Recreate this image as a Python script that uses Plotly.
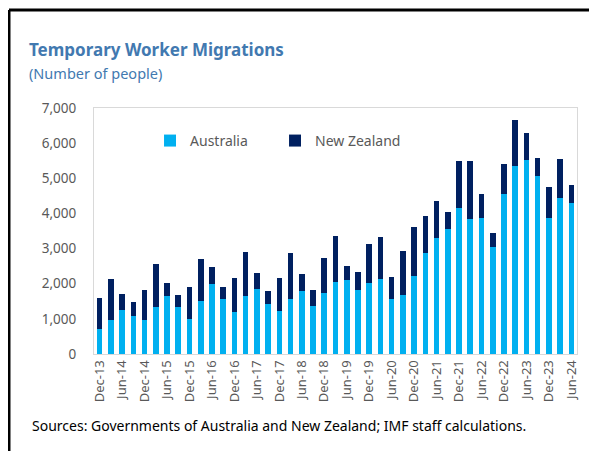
import plotly.graph_objects as go

quarters = [
    "Dec-13", "Mar-14", "Jun-14", "Sep-14", "Dec-14", "Mar-15", "Jun-15", "Sep-15",
    "Dec-15", "Mar-16", "Jun-16", "Sep-16", "Dec-16", "Mar-17", "Jun-17", "Sep-17",
    "Dec-17", "Mar-18", "Jun-18", "Sep-18", "Dec-18", "Mar-19", "Jun-19", "Sep-19",
    "Dec-19", "Mar-20", "Jun-20", "Sep-20", "Dec-20", "Mar-21", "Jun-21", "Sep-21",
    "Dec-21", "Mar-22", "Jun-22", "Sep-22", "Dec-22", "Mar-23", "Jun-23", "Sep-23",
    "Dec-23", "Mar-24", "Jun-24",
]

australia = [
    720, 980, 1260, 1070, 980, 1330, 1660, 1340,
    1010, 1520, 2000, 1570, 1200, 1660, 1850, 1420,
    1230, 1570, 1800, 1370, 1730, 2060, 2100, 1830,
    2010, 2130, 1570, 1670, 2230, 2880, 3300, 3550,
    4160, 3830, 3870, 3050, 4560, 5360, 5530, 5060,
    3860, 4430, 4310,
]

total = [
    1600, 2140, 1720, 1480, 1810, 2560, 2020, 1670,
    1900, 2700, 2470, 1920, 2150, 2910, 2310, 1790,
    2150, 2880, 2280, 1820, 2740, 3350, 2490, 2330,
    3140, 3320, 2190, 2920, 3620, 3940, 4350, 4040,
    5500, 5480, 4560, 3440, 5410, 6660, 6300, 5580,
    4760, 5550, 4820,
]

new_zealand = [t - a for t, a in zip(total, australia)]

tick_labels = [q for q in quarters if q.startswith(("Dec", "Jun"))]

FONT = "Noto Sans"
GREY = "#595959"

fig = go.Figure()
fig.add_trace(go.Bar(x=quarters, y=australia, name="Australia",
                     marker=dict(color="#00B0F0", line=dict(width=0))))
fig.add_trace(go.Bar(x=quarters, y=new_zealand, name="New Zealand",
                     marker=dict(color="#002060", line=dict(width=0))))

# the page puts the figure 8px in from the top-left corner
fig.update_layout(
    barmode="stack",
    bargap=0.5,
    width=589, height=443,
    margin=dict(l=86, r=20, t=100, b=97, autoexpand=False),
    paper_bgcolor="white",
    plot_bgcolor="white",
    font=dict(family=FONT, size=13, color=GREY),
    showlegend=True,
    legend=dict(orientation="h", x=0.116, y=0.866, xanchor="left", yanchor="middle",
                traceorder="normal", font=dict(size=14, color=GREY), entrywidth=80,
                bgcolor="rgba(0,0,0,0)", itemclick=False),
    xaxis=dict(type="category", tickmode="array", tickvals=tick_labels,
               ticktext=tick_labels, tickangle=-90, showgrid=False,
               showline=True, linecolor="#D9D9D9", mirror=True, ticks="",
               tickfont=dict(size=13, color=GREY)),
    yaxis=dict(range=[0, 7000], dtick=1000, tickformat=",", showgrid=False,
               showline=True, linecolor="#D9D9D9", mirror=True, ticks="",
               ticklabelstandoff=14, tickfont=dict(size=13.5, color=GREY),
               zeroline=False),
)

# outer frame (left and top edges)
fig.add_shape(type="line", xref="paper", yref="paper", x0=-0.176, x1=-0.176, y0=-0.5, y1=1.398,
              line=dict(color="black", width=3))
fig.add_shape(type="line", xref="paper", yref="paper", x0=-0.176, x1=1.1, y0=1.398, y1=1.398,
              line=dict(color="black", width=3))

fig.add_annotation(text="<b>Temporary Worker Migrations</b>", xref="paper", yref="paper",
                   x=-0.139, y=1.236, xanchor="left", yanchor="middle", showarrow=False,
                   font=dict(size=17, color="#4279B0", family=FONT))
fig.add_annotation(text="(Number of people)", xref="paper", yref="paper",
                   x=-0.139, y=1.142, xanchor="left", yanchor="middle", showarrow=False,
                   font=dict(size=14.5, color="#4279B0", family=FONT))
fig.add_annotation(text="Sources: Governments of Australia and New Zealand; IMF staff calculations.",
                   xref="paper", yref="paper", x=-0.133, y=-0.289, xanchor="left",
                   yanchor="middle", showarrow=False,
                   font=dict(size=14, color="black", family=FONT))

fig.write_html("out.html")
